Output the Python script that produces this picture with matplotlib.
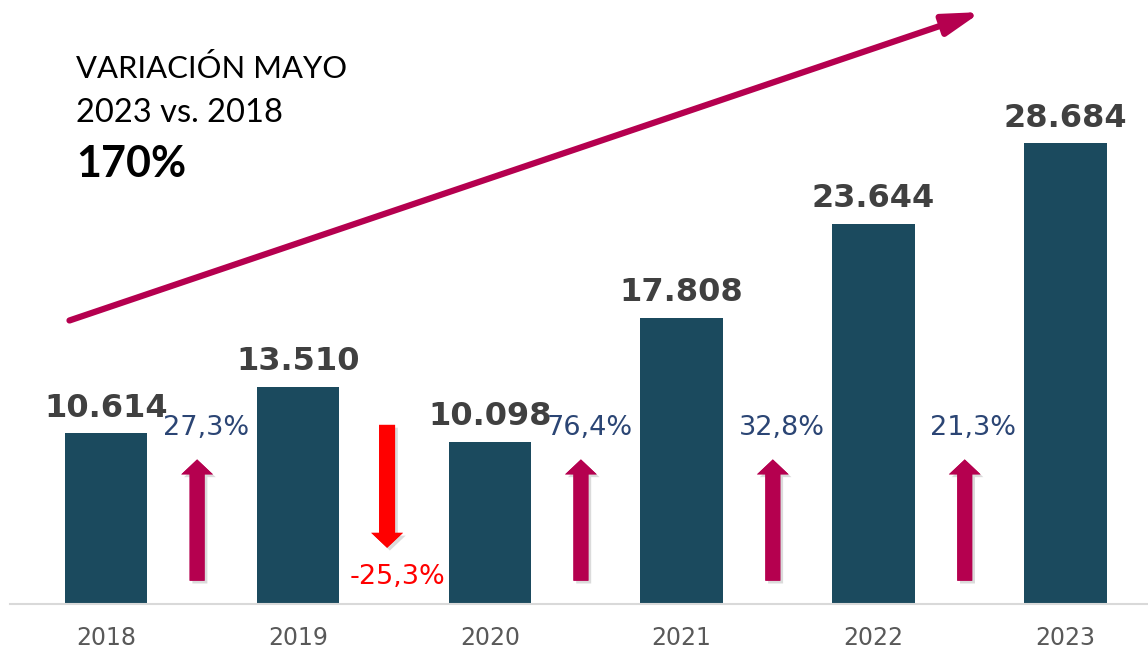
import matplotlib
matplotlib.use('Agg')

import matplotlib.pyplot as plt
import matplotlib.patheffects as pe
from matplotlib.patches import FancyArrow
import numpy as np

# data
years = ['2018', '2019', '2020', '2021', '2022', '2023']
values = [10614, 13510, 10098, 17808, 23644, 28684]

# year-on-year change, and total change 2023 vs 2018
changes = [(values[i + 1] / values[i] - 1) * 100 for i in range(len(values) - 1)]
total_change = (values[-1] / values[0] - 1) * 100


def fmt_thousands(v):
    return f"{v:,}".replace(",", ".")


def fmt_pct(p):
    return f"{p:.1f}%".replace(".", ",")


BAR = '#1B4A5E'
UP = '#B5004F'
DOWN = '#FF0000'
PCT_TXT = '#2B4574'
VAL_TXT = '#404040'

W, H = 1148, 650
fig = plt.figure(figsize=(W / 100, H / 100), dpi=100)
ax = fig.add_axes([10 / W, 46 / H, 1 - 10 / W, 604 / H])

x = np.arange(len(years))
ax.bar(x, values, width=0.43, color=BAR, zorder=2)

ax.set_xlim(-0.5, 5.43)
ax.set_ylim(0, 37600)

for s in ['top', 'right', 'left']:
    ax.spines[s].set_visible(False)
ax.spines['bottom'].set_color('#D9D9D9')
ax.spines['bottom'].set_linewidth(1.5)
ax.set_yticks([])
ax.set_xticks(x)
ax.set_xticklabels(years, fontsize=17, color='#595959', family='DejaVu Sans')
ax.tick_params(axis='x', length=0, pad=16)

# value labels on top of the bars
for xi, v in zip(x, values):
    ax.annotate(fmt_thousands(v), (xi, v), xytext=(0, 7), textcoords='offset points',
                ha='center', va='bottom', fontsize=23, fontweight='bold',
                color=VAL_TXT, family='DejaVu Sans')

# change arrows between bars
shadow = [pe.withSimplePatchShadow(offset=(2, -2), shadow_rgbFace='#999999', alpha=0.35), pe.Normal()]
for i, c in enumerate(changes):
    xa = i + 0.475
    if c >= 0:
        arr = FancyArrow(xa, 1450, 0, 7550, width=0.078, head_width=0.165,
                         head_length=930, length_includes_head=True,
                         color=UP, lw=0, zorder=3)
        ax.text(i + 0.52, 10950, fmt_pct(c), ha='center', va='center',
                fontsize=19.5, color=PCT_TXT, family='DejaVu Sans')
    else:
        arr = FancyArrow(xa - 0.01, 11150, 0, -7650, width=0.083, head_width=0.165,
                         head_length=930, length_includes_head=True,
                         color=DOWN, lw=0, zorder=3)
        ax.text(i + 0.52, 1700, fmt_pct(c), ha='center', va='center',
                fontsize=19.5, color=DOWN, family='DejaVu Sans')
    arr.set_path_effects(shadow)
    ax.add_patch(arr)

# overall trend arrow
ax.annotate('', xy=(4.56, 36850), xytext=(-0.19, 17650),
            arrowprops=dict(arrowstyle='-|>,head_length=0.55,head_width=0.16', color=UP,
                            lw=4.5, mutation_scale=40, shrinkA=0, shrinkB=0))

# headline text
fig.text(76 / W, 1 - 78 / H, 'VARIACIÓN MAYO', fontsize=22.3, family='Lato',
         color='black', va='baseline')
fig.text(76 / W, 1 - 122 / H, '2023 vs. 2018', fontsize=23.5, family='Lato',
         color='black', va='baseline')
fig.text(76 / W, 1 - 177 / H, f"{total_change:.0f}%", fontsize=31, family='Lato',
         fontweight='bold', color='black', va='baseline')

fig.savefig('out.png', dpi=100)
plt.close(fig)
